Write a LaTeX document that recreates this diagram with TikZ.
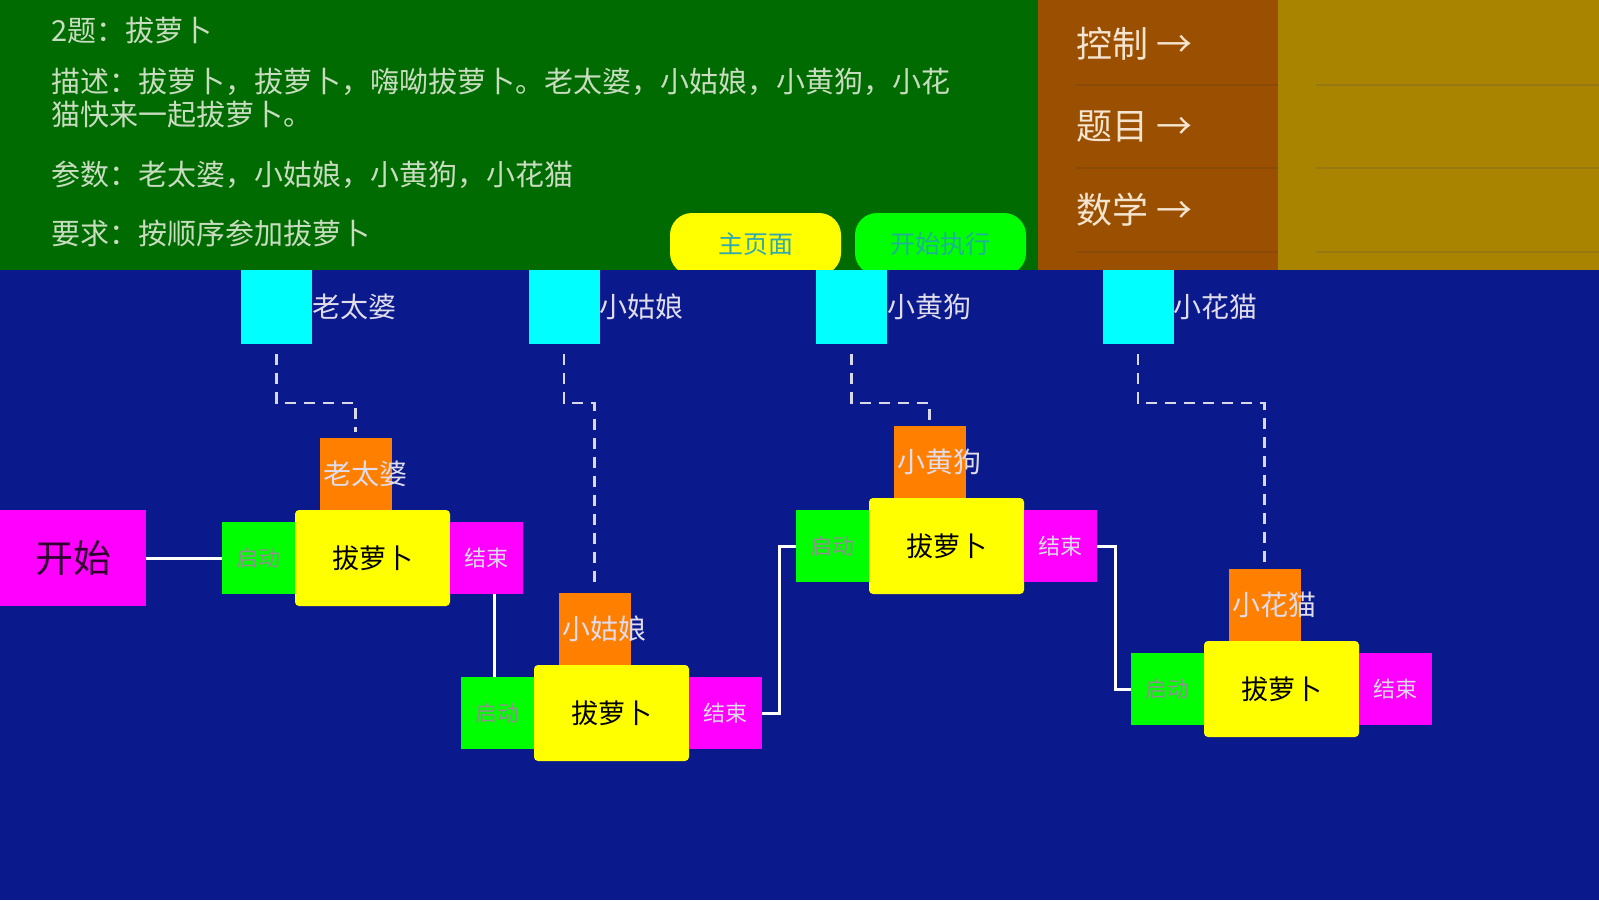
\documentclass[tikz,border=0pt]{standalone}
\usepackage{fontspec}
\setmainfont{Noto Sans CJK SC}
\usetikzlibrary{calc}
\definecolor{bgblue}{HTML}{0A1A8C}
\definecolor{panelgreen}{HTML}{006B00}
\definecolor{panelbrown}{HTML}{9A5000}
\definecolor{panelolive}{HTML}{A88400}
\definecolor{sepbrown}{HTML}{8A4A08}
\definecolor{sepolive}{HTML}{987810}
\definecolor{toptext}{HTML}{C8DCC0}
\definecolor{menutext}{HTML}{F4E4D0}
\definecolor{btnteal}{HTML}{30A8B0}
\definecolor{btngreen}{HTML}{20B098}
\definecolor{boxorange}{HTML}{FF8000}
\definecolor{boxcyan}{HTML}{00FFFF}
\definecolor{boxmagenta}{HTML}{FF00FF}
\definecolor{boxyellow}{HTML}{FFFF00}
\definecolor{boxgreen}{HTML}{00FF00}
\definecolor{pale}{HTML}{E0DCEC}
\definecolor{linegray}{HTML}{D8D8E8}
\definecolor{startdark}{HTML}{300030}
\definecolor{launchtext}{HTML}{909090}
\tikzset{
  toplbl/.style={anchor=west, inner sep=0, text=toptext, font=\fontsize{29}{29}\selectfont},
  menulbl/.style={anchor=west, inner sep=0, text=menutext, font=\fontsize{36}{36}\selectfont},
  btnbox/.style={rounded corners=22, minimum width=171, minimum height=62, inner sep=0, font=\fontsize{25}{25}\selectfont},
  cyanbox/.style={fill=boxcyan, minimum width=71, minimum height=74, inner sep=0},
  cyanlbl/.style={anchor=west, inner sep=0, text=pale, font=\fontsize{28}{28}\selectfont},
  orangebox/.style={fill=boxorange, minimum width=72, minimum height=72, inner sep=0},
  orangelbl/.style={anchor=west, inner sep=0, text=pale, font=\fontsize{28}{28}\selectfont},
  mainbox/.style={fill=boxyellow, rounded corners=4, minimum width=155, minimum height=96, inner sep=0, text=black, font=\fontsize{27}{27}\selectfont},
  launchbox/.style={fill=boxgreen, minimum width=73, minimum height=72, inner sep=0, text=launchtext, font=\fontsize{22}{22}\selectfont},
  endbox/.style={fill=boxmagenta, minimum width=73, minimum height=72, inner sep=0, text=pale, font=\fontsize{22}{22}\selectfont},
  startbox/.style={fill=boxmagenta, minimum width=146, minimum height=96, inner sep=0, text=startdark, font=\fontsize{38}{38}\selectfont},
  flow/.style={draw=white, line width=3pt},
  dashlink/.style={draw=linegray, line width=2.5pt, dash pattern=on 11pt off 8pt, shorten <=10pt, shorten >=6pt},
}
\begin{document}
\begin{tikzpicture}[x=1pt,y=-1pt]
\useasboundingbox (0,0) rectangle (1599,900);
% panels
\fill[panelgreen] (0,0) rectangle (1038,270);
\fill[panelbrown] (1038,0) rectangle (1278,270);
\fill[panelolive] (1278,0) rectangle (1599,270);
\foreach \yy in {85,168,252}{
  \draw[sepbrown, line width=2pt] (1076,\yy) -- (1278,\yy);
  \draw[sepolive, line width=2pt] (1316,\yy) -- (1599,\yy);
}
% top texts
\node[toplbl] (t1) at (51,31) {2题：拔萝卜};
\node[toplbl] (t2) at (51,82) {描述：拔萝卜，拔萝卜，嗨呦拔萝卜。老太婆，小姑娘，小黄狗，小花};
\node[toplbl] (t3) at (51,115) {猫快来一起拔萝卜。};
\node[toplbl] (t4) at (51,175) {参数：老太婆，小姑娘，小黄狗，小花猫};
\node[toplbl] (t5) at (51,233) {要求：按顺序参加拔萝卜};
% menu
\node[menulbl] (m1) at (1076,44) {控制 →};
\node[menulbl] (m2) at (1076,127) {题目 →};
\node[menulbl] (m3) at (1076,210) {数学 →};
% buttons
\node[btnbox, fill=boxyellow, text=btnteal] (home) at (755.5,244) {主页面};
\node[btnbox, fill=boxgreen, text=btngreen] (run) at (940.5,244) {开始执行};
% blue area
\fill[bgblue] (0,270) rectangle (1599,900);
% parameter boxes
\node[cyanbox] (c1) at (276.5,307) {};
\node[cyanbox] (c2) at (564,307) {};
\node[cyanbox] (c3) at (851.5,307) {};
\node[cyanbox] (c4) at (1138,307) {};
\node[cyanlbl] (cl1) at (c1.east) {老太婆};
\node[cyanlbl] (cl2) at (c2.east) {小姑娘};
\node[cyanlbl] (cl3) at (c3.east) {小黄狗};
\node[cyanlbl] (cl4) at (c4.east) {小花猫};
% start
\node[startbox] (start) at (73,558) {开始};
% group 1
\node[orangebox] (o1) at (355.5,474) {};
\node[mainbox] (y1) at (372.5,558) {拔萝卜};
\node[launchbox] (s1) at (258.5,558) {启动};
\node[endbox] (e1) at (486,558) {结束};
% group 2
\node[orangebox] (o2) at (594.5,629) {};
\node[mainbox] (y2) at (611.5,713) {拔萝卜};
\node[launchbox] (s2) at (497.5,713) {启动};
\node[endbox] (e2) at (725,713) {结束};
% group 3
\node[orangebox] (o3) at (929.5,462) {};
\node[mainbox] (y3) at (946.5,546) {拔萝卜};
\node[launchbox] (s3) at (832.5,546) {启动};
\node[endbox] (e3) at (1060,546) {结束};
% group 4
\node[orangebox] (o4) at (1264.5,605) {};
\node[mainbox] (y4) at (1281.5,689) {拔萝卜};
\node[launchbox] (s4) at (1167.5,689) {启动};
\node[endbox] (e4) at (1395,689) {结束};
% orange labels
\node[orangelbl] (ol1) at ([xshift=4pt]o1.west) {老太婆};
\node[orangelbl] (ol2) at ([xshift=4pt]o2.west) {小姑娘};
\node[orangelbl] (ol3) at ([xshift=4pt]o3.west) {小黄狗};
\node[orangelbl] (ol4) at ([xshift=4pt]o4.west) {小花猫};
% dashed parameter links
\coordinate (bend) at (0,403);
\draw[dashlink] (c1.south) -- (c1.south |- bend) -| (o1.north);
\draw[dashlink] (c2.south) -- (c2.south |- bend) -| (o2.north);
\draw[dashlink] (c3.south) -- (c3.south |- bend) -| (o3.north);
\draw[dashlink] (c4.south) -- (c4.south |- bend) -| (o4.north);
% flow connectors
\coordinate (k12) at (494,0);
\draw[flow] (start.east) -- (s1.west);
\draw[flow] (e1.south -| k12) -- (s2.north -| k12);
\draw[flow] (e2.east) -- ++(18,0) |- (s3.west);
\draw[flow] (e3.east) -- ++(19,0) |- (s4.west);
\end{tikzpicture}
\end{document}
